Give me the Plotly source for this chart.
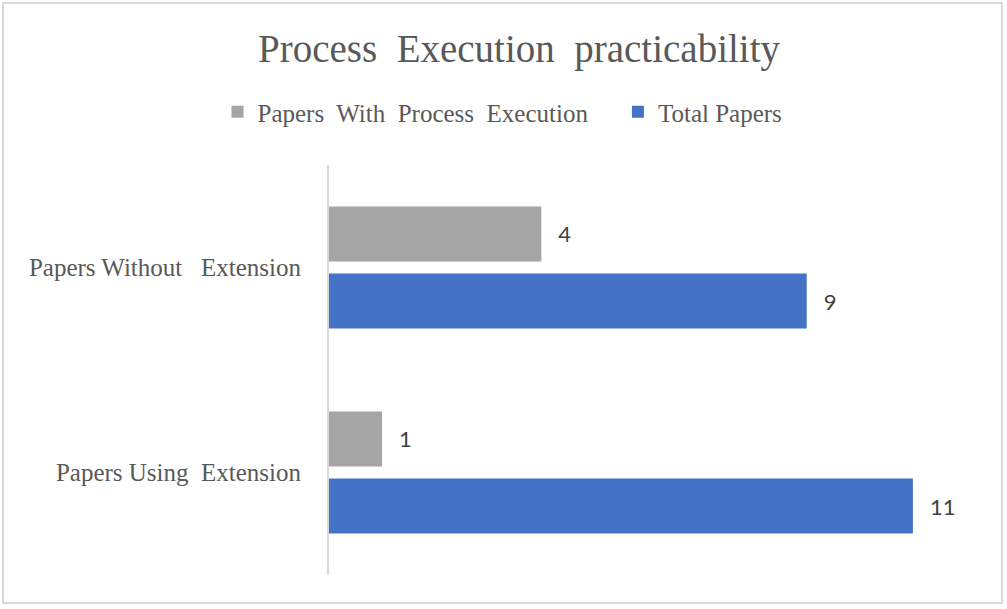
import plotly.graph_objects as go

categories = ["Papers Without Extension", "Papers Using Extension"]
cat_labels = ["Papers Without\u00a0\u00a0 Extension", "Papers Using\u00a0 Extension"]
with_process = [4, 1]
total_papers = [9, 11]
series_names = ["Papers\u00a0 With\u00a0 Process\u00a0 Execution\u00a0\u00a0\u00a0\u00a0", "Total Papers"]

W, H = 1007, 609
ml, mr, mt, mb = 329, 32, 165, 34

label_font = dict(family="Lato, Open Sans, sans-serif", size=22, color="#404040")
serif = "Liberation Serif, Times New Roman, serif"
label_tpl = "\u00a0\u00a0\u2009%{x}"

fig = go.Figure()
fig.add_trace(go.Bar(
    y=categories, x=with_process, orientation="h", name=series_names[0],
    marker=dict(color="#A5A5A5", line=dict(width=0)),
    text=with_process, texttemplate=label_tpl, textposition="outside",
    textfont=label_font, cliponaxis=False,
))
fig.add_trace(go.Bar(
    y=categories, x=total_papers, orientation="h", name=series_names[1],
    marker=dict(color="#4472C4", line=dict(width=0)),
    text=total_papers, texttemplate=label_tpl, textposition="outside",
    textfont=label_font, cliponaxis=False,
))

pw = W - ml - mr
ph = H - mt - mb
fig.add_shape(type="rect", xref="paper", yref="paper",
              x0=-(ml - 3) / pw, x1=1 + (mr - 5) / pw,
              y0=-(mb - 6) / ph, y1=1 + (mt - 3) / ph,
              line=dict(color="#D9D9D9", width=2), fillcolor="rgba(0,0,0,0)", layer="below")

fig.update_layout(
    width=W, height=H,
    margin=dict(l=ml, r=mr, t=mt, b=mb),
    paper_bgcolor="white", plot_bgcolor="white",
    barmode="group", bargap=0.346, bargroupgap=0.18,
    title=dict(text="Process\u00a0 Execution\u00a0 practicability", x=519 / W, xanchor="center",
               xref="container", y=1 - 48 / H, yref="container", yanchor="middle",
               font=dict(family=serif, size=39, color="#595959")),
    legend=dict(orientation="h", x=0.499, xanchor="center", xref="container",
                y=1 - 112 / H, yref="container", yanchor="middle",
                font=dict(family=serif, size=25, color="#595959"),
                itemwidth=30, traceorder="normal", bgcolor="rgba(0,0,0,0)"),
    xaxis=dict(range=[0, 12.17], visible=False, showgrid=False, zeroline=False),
    yaxis=dict(autorange="reversed", tickmode="array", tickvals=categories, ticktext=cat_labels,
               showline=True, linecolor="#D9D9D9", linewidth=2, showgrid=False, ticks="",
               ticklabelstandoff=21,
               tickfont=dict(family=serif, size=25, color="#595959")),
    showlegend=True,
)

fig.write_html("out.html", config={"displayModeBar": False},
               post_script="document.body.style.margin='0';")
